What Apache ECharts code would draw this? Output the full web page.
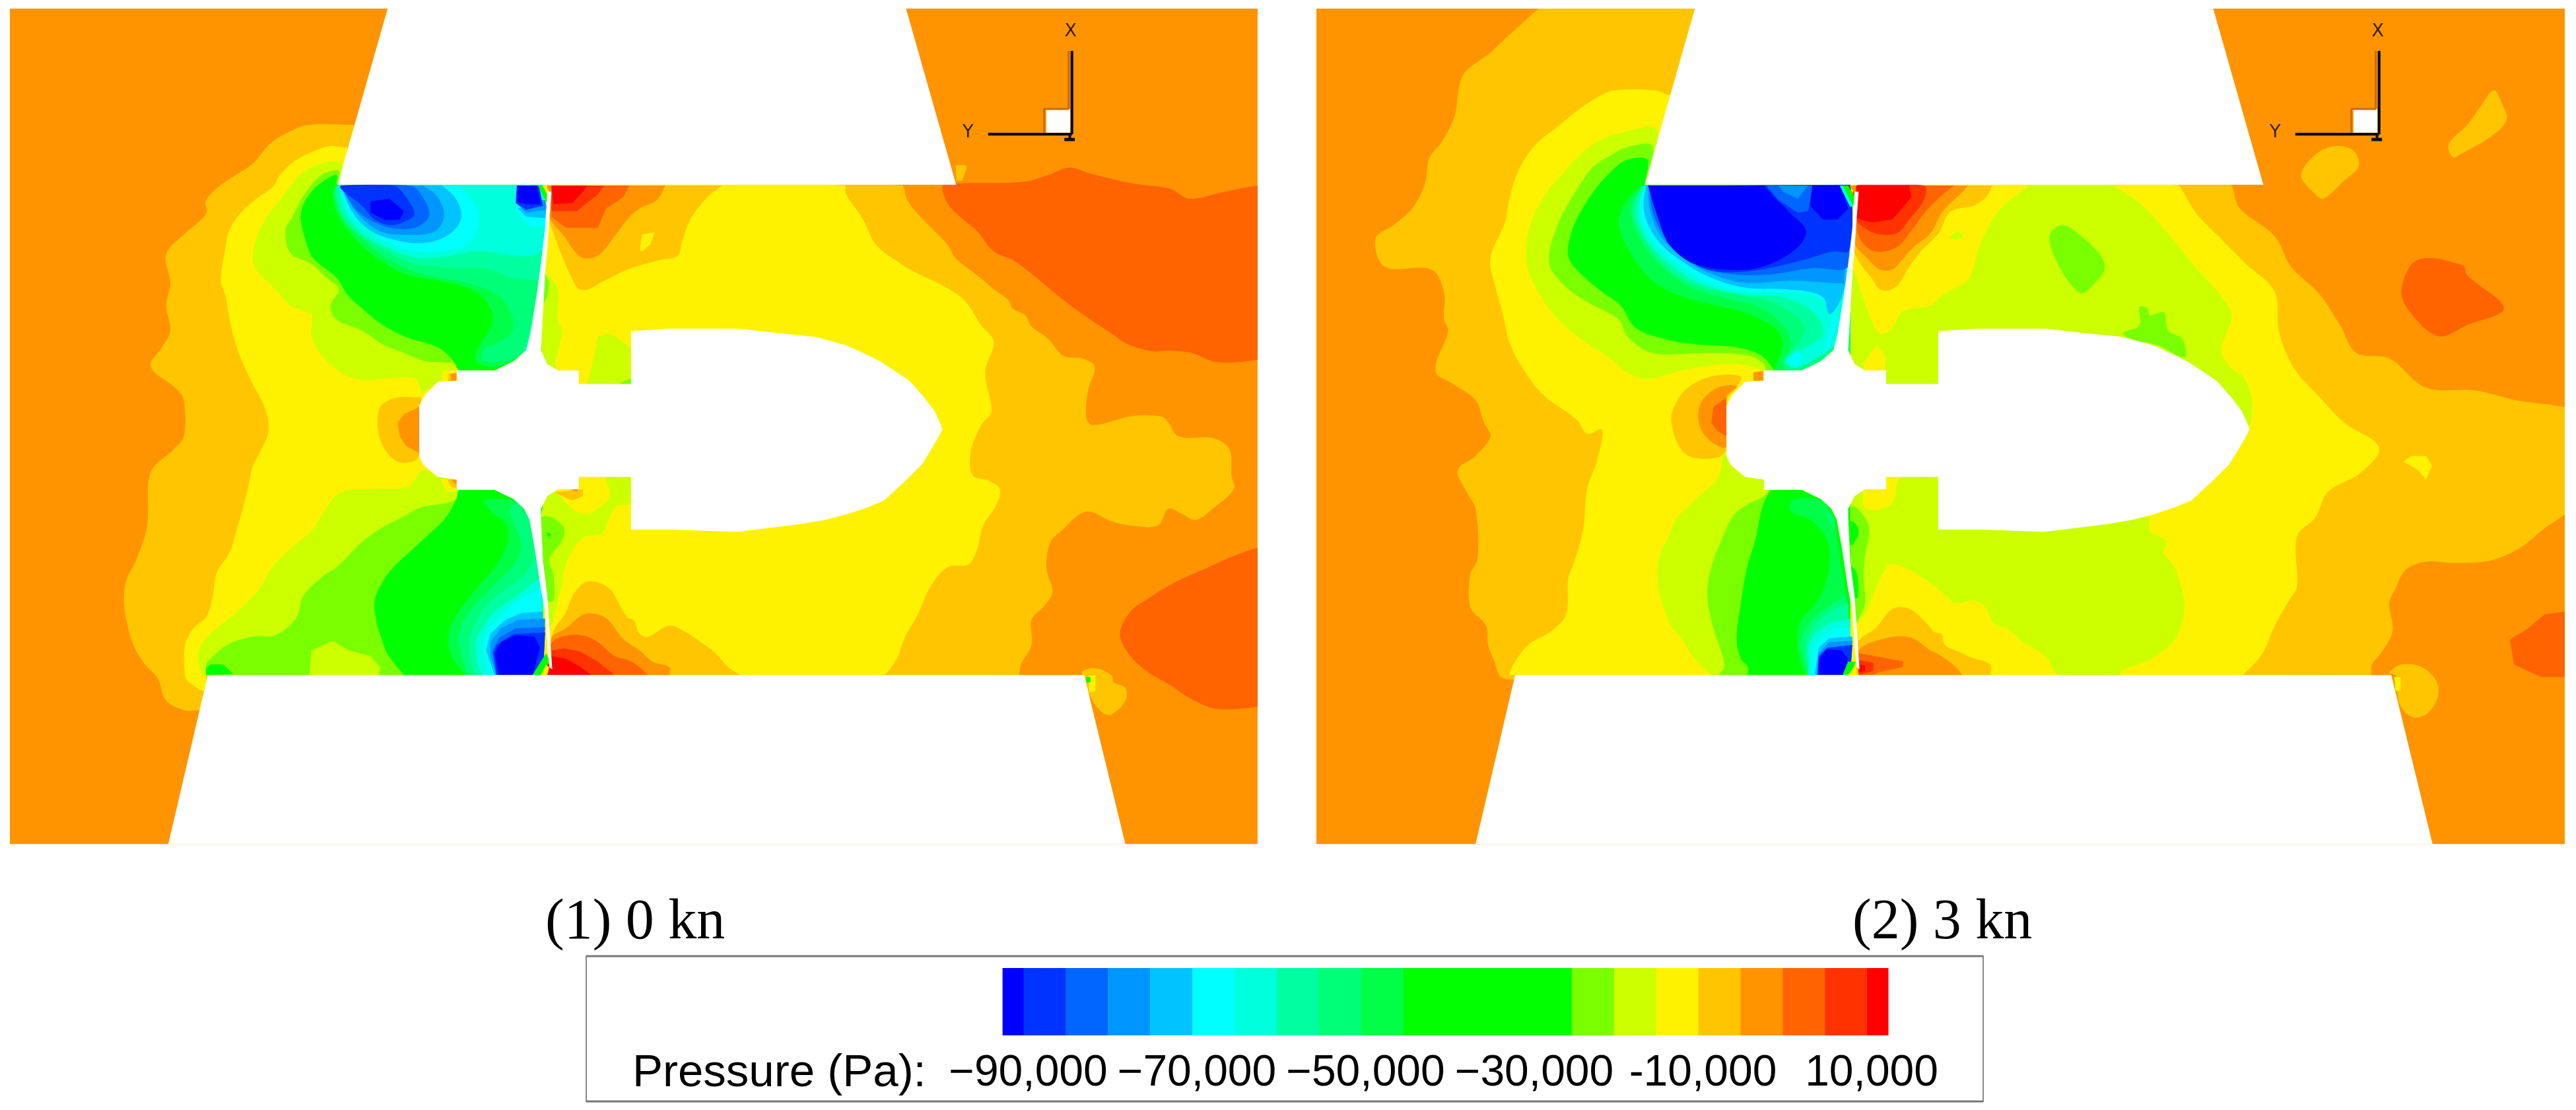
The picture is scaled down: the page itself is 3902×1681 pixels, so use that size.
<!DOCTYPE html>
<html>
<head>
<meta charset="utf-8">
<title>Pressure contours</title>
<script src="https://cdn.jsdelivr.net/npm/echarts@6/dist/echarts.min.js"></script>
<style>
  html,body{margin:0;padding:0;background:#fff;}
  #chart{width:3902px;height:1681px;}
</style>
</head>
<body>
<div id="chart"></div>
<script>
// legend: lower bound of each colour cell (Pa), and its colour
var legendLevels = [-92500,-90000,-85000,-80000,-75000,-70000,-65000,-60000,-55000,-50000,-45000,-25000,-20000,-15000,-10000,-5000,0,5000,10000];
var legendColors = ['#0000ff','#0033ff','#0066ff','#0096ff','#00c3ff','#00ffff','#00ffdc','#00ffa0','#00ff78','#00ff46','#00ff00','#7aff00','#ccff00','#fff200','#ffc600','#ff9400','#ff6400','#ff3200','#ff0000'];
var legendTop = 12500;
var legendTicks = [-90000,-70000,-50000,-30000,-10000,10000];
var legendTickLabels = ['−90,000','−70,000','−50,000','−30,000','-10,000','10,000'];

// contour regions as [pressure level, outline], painted in order, in model coordinates
var contours0kn = [
  [-5000,[[24,31],[2987,31],[2987,3038],[24,3038]]],
  [-10000,[[838,450],[735,450],[680,480],[640,520],[600,590],[530,660],[490,720],[490,770],[440,840],[395,915],[405,1020],[395,1100],[405,1190],[385,1250],[358,1318],[420,1400],[437,1440],[437,1571],[410,1621],[358,1701],[350,1891],[325,2011],[300,2091],[295,2171],[305,2261],[320,2331],[345,2391],[375,2441],[395,2521],[440,2556],[470,2556],[2420,2429],[2425,2391],[2450,2321],[2450,2231],[2480,2181],[2500,2131],[2485,2041],[2495,1951],[2520,1911],[2580,1841],[2640,1876],[2685,1891],[2750,1891],[2775,1831],[2810,1851],[2840,1871],[2880,1831],[2930,1761],[2925,1711],[2920,1616],[2880,1576],[2800,1571],[2775,1521],[2760,1500],[2690,1497],[2595,1530],[2580,1500],[2585,1400],[2600,1320],[2570,1290],[2525,1280],[2490,1220],[2450,1175],[2435,1135],[2405,1110],[2395,1080],[2360,1040],[2320,990],[2270,930],[2250,880],[2180,770],[2155,720],[2145,668]]],
  [-10000,[[2270,595],[2295,595],[2295,610],[2285,650],[2272,650]]],
  [-10000,[[2570,2421],[2605,2406],[2640,2431],[2645,2456],[2673,2476],[2673,2521],[2640,2571],[2620,2566],[2595,2521]]],
  [-15000,[[2585,2431],[2602,2431],[2602,2486],[2587,2491]]],
  [-30000,[[2580,2436],[2590,2436],[2590,2456],[2580,2456]]],
  [0,[[2280,660],[2430,655],[2490,630],[2540,603],[2590,625],[2690,660],[2780,680],[2825,715],[2910,690],[2987,668],[2987,1295],[2890,1303],[2830,1270],[2770,1262],[2740,1265],[2680,1240],[2640,1200],[2590,1150],[2530,1085],[2470,1010],[2410,940],[2360,905],[2320,830],[2280,780],[2250,730],[2240,668]]],
  [0,[[2987,1971],[2930,2001],[2870,2041],[2790,2096],[2730,2151],[2685,2201],[2660,2281],[2680,2351],[2720,2411],[2780,2466],[2830,2516],[2890,2551],[2987,2543]]],
  [-15000,[[810,530],[785,525],[745,545],[700,580],[665,630],[650,670],[610,715],[570,770],[545,830],[535,900],[525,1010],[535,1060],[550,1180],[570,1280],[600,1380],[630,1470],[638,1551],[620,1621],[600,1681],[590,1751],[575,1841],[560,1921],[545,1991],[515,2061],[505,2151],[490,2221],[460,2261],[440,2321],[440,2431],[450,2456],[488,2486],[490,2429],[2102,2429],[2130,2371],[2150,2291],[2180,2211],[2210,2111],[2250,2041],[2300,2031],[2320,1981],[2335,1891],[2365,1821],[2375,1761],[2350,1731],[2310,1711],[2305,1631],[2320,1561],[2335,1521],[2355,1480],[2340,1340],[2360,1230],[2330,1170],[2290,1080],[2230,1020],[2180,985],[2130,940],[2080,880],[2050,790],[2010,700],[2007,668]]],
  // right of the upper blade
  [-10000,[[1300,668],[1715,668],[1680,710],[1640,790],[1620,870],[1610,920],[1570,935],[1520,955],[1490,970],[1430,1015],[1400,1040],[1375,1040],[1355,990],[1335,920],[1315,840],[1305,790]]],
  [-15000,[[1520,900],[1525,845],[1555,835],[1545,880],[1525,905]]],
  [-5000,[[1300,668],[1580,668],[1560,720],[1520,750],[1490,790],[1460,850],[1420,920],[1380,925],[1340,850],[1305,780]]],
  [0,[[1310,668],[1495,668],[1480,710],[1440,750],[1420,820],[1345,820],[1310,780]]],
  [5000,[[1310,668],[1435,668],[1420,700],[1370,760],[1310,760]]],
  [10000,[[1310,668],[1395,668],[1385,690],[1360,730],[1315,735]]],
  // right of the lower blade
  [-10000,[[1310,2290],[1345,2200],[1362,2140],[1390,2096],[1420,2096],[1450,2121],[1470,2171],[1490,2221],[1505,2231],[1520,2281],[1540,2291],[1590,2251],[1625,2271],[1665,2311],[1700,2351],[1730,2401],[1758,2429],[1310,2429]]],
  [-5000,[[1310,2296],[1345,2261],[1385,2211],[1420,2211],[1445,2231],[1475,2291],[1490,2311],[1520,2341],[1550,2381],[1590,2401],[1590,2429],[1310,2429]]],
  [0,[[1310,2316],[1350,2286],[1390,2289],[1420,2311],[1460,2361],[1500,2381],[1540,2429],[1310,2429]]],
  [5000,[[1310,2341],[1340,2333],[1380,2346],[1420,2381],[1460,2429],[1310,2429]]],
  [10000,[[1310,2361],[1345,2371],[1380,2401],[1405,2429],[1290,2429]]],
  // upper suction side
  [-20000,[[810,590],[770,585],[720,620],[690,670],[660,730],[630,790],[605,880],[605,960],[660,1050],[690,1100],[740,1135],[740,1210],[770,1290],[820,1350],[860,1368],[985,1362],[1005,1410],[1040,1375],[1085,1333],[1290,1333],[1290,665],[810,665]]],
  [-25000,[[805,615],[770,625],[740,665],[715,720],[695,780],[678,830],[690,910],[740,950],[775,1000],[805,1040],[785,1100],[800,1150],[860,1190],[910,1240],[960,1270],[1010,1300],[1060,1305],[1085,1310],[1090,1333],[1290,1333],[1290,665],[805,665]]],
  [-30000,[[800,630],[770,650],[735,700],[715,770],[725,860],[745,930],[800,1000],[825,1060],[860,1110],[905,1165],[960,1210],[1040,1250],[1075,1295],[1090,1333],[1290,1333],[1290,665],[800,665]]],
  [-50000,[[800,665],[790,700],[805,780],[850,870],[905,940],[970,990],[1060,1015],[1130,1050],[1165,1110],[1168,1170],[1140,1240],[1130,1300],[1175,1320],[1225,1290],[1290,1200],[1290,665]]],
  [-55000,[[800,665],[795,700],[815,790],[860,860],[920,930],[1000,985],[1100,1015],[1180,1060],[1215,1130],[1218,1190],[1180,1235],[1148,1260],[1150,1300],[1215,1295],[1240,1270],[1290,1200],[1290,665]]],
  [-60000,[[800,665],[800,720],[820,790],[860,850],[920,905],[975,945],[1080,965],[1160,968],[1215,1000],[1285,1020],[1275,1100],[1255,1210],[1240,1270],[1290,1200],[1290,665]]],
  [-65000,[[805,680],[825,780],[870,850],[920,890],[980,925],[1050,925],[1130,905],[1285,905],[1290,665],[805,665]]],
  [-70000,[[810,680],[830,770],[880,830],[930,880],[990,905],[1050,905],[1110,880],[1135,820],[1135,760],[1110,700],[1085,668],[810,668]]],
  [-75000,[[815,690],[840,770],[880,830],[930,860],[1000,875],[1060,850],[1095,790],[1085,720],[1050,668],[815,668]]],
  [-80000,[[815,680],[845,760],[900,830],[960,845],[1030,835],[1055,780],[1040,710],[1005,668],[815,668]]],
  [-85000,[[810,672],[850,760],[905,810],[960,825],[1000,810],[1020,770],[1000,700],[975,668],[810,668]]],
  [-90000,[[810,680],[860,740],[890,790],[930,810],[965,795],[985,770],[960,700],[935,668],[810,668]]],
  [-92500,[[880,725],[925,715],[960,760],[950,790],[915,792],[880,765]]],
  [-70000,[[1225,745],[1235,780],[1260,815],[1295,820],[1300,740]]],
  [-75000,[[1230,750],[1250,780],[1295,785],[1300,740]]],
  [-80000,[[1225,730],[1250,765],[1300,755],[1295,720]]],
  [-90000,[[1228,668],[1225,730],[1250,755],[1290,740],[1280,668]]],
  [-92500,[[1228,668],[1228,725],[1250,735],[1285,735],[1275,668]]],
  [-30000,[[1278,668],[1290,668],[1305,720],[1303,745]]],
  [-15000,[[1288,668],[1297,668],[1305,690],[1303,700]]],
  // front of the hub
  [-10000,[[897,1521],[905,1460],[945,1430],[990,1430],[1000,1430],[996,1641],[960,1666],[930,1646],[905,1591]]],
  [-5000,[[945,1521],[960,1490],[996,1465],[996,1631],[965,1606],[950,1571]]],
  [-15000,[[1050,1333],[1085,1333],[1085,1370],[1052,1370]]],
  [-10000,[[1065,1345],[1085,1340],[1085,1372],[1065,1372]]],
  [-5000,[[1072,1345],[1085,1345],[1085,1370],[1072,1370]]],
  // lobes between blade and hub, upper
  [-20000,[[1297,990],[1325,1040],[1325,1150],[1335,1190],[1320,1300],[1320,1333],[1300,1310],[1285,1250],[1290,1100]]],
  [-25000,[[1293,975],[1305,1020],[1300,1070],[1287,1100],[1290,1030]]],
  [-20000,[[1395,1382],[1410,1290],[1420,1210],[1450,1200],[1499,1250],[1499,1382]]],
  [-25000,[[1468,1382],[1499,1362],[1499,1382]]],
  // lower suction side
  [-20000,[[1005,1691],[1040,1716],[1085,1726],[1085,1763],[1285,1763],[1285,2429],[480,2429],[470,2351],[500,2281],[565,2201],[615,2121],[650,2036],[700,1961],[740,1911],[770,1841],[810,1771],[890,1759],[970,1751]]],
  [-25000,[[1090,1791],[1060,1811],[1000,1826],[950,1866],[905,1901],[860,1951],[800,2041],[765,2076],[720,2146],[705,2221],[655,2286],[600,2291],[540,2321],[500,2371],[490,2391],[490,2429],[1285,2429],[1285,1763],[1090,1763]]],
  [-20000,[[735,2429],[740,2341],[790,2306],[830,2341],[880,2361],[903,2401],[900,2429]]],
  [-30000,[[490,2406],[500,2391],[530,2391],[555,2426],[490,2429]]],
  [-30000,[[1090,1763],[1085,1791],[1060,1861],[1020,1921],[970,1991],[935,2041],[910,2091],[890,2161],[895,2241],[905,2291],[920,2351],[960,2429],[1285,2429],[1285,1763]]],
  [-50000,[[1150,1801],[1170,1846],[1200,1881],[1205,1951],[1180,2031],[1130,2121],[1085,2211],[1065,2281],[1070,2351],[1105,2429],[1290,2429],[1290,1821],[1225,1801]]],
  [-55000,[[1225,1811],[1210,1841],[1235,1941],[1230,2011],[1190,2081],[1150,2141],[1110,2211],[1090,2281],[1095,2351],[1120,2429],[1290,2429],[1290,1921],[1250,1851]]],
  [-60000,[[1230,1831],[1250,1921],[1270,2001],[1250,2061],[1200,2121],[1160,2171],[1130,2241],[1115,2311],[1135,2429],[1290,2429],[1275,2021]]],
  [-65000,[[1280,2081],[1230,2141],[1175,2201],[1145,2261],[1130,2321],[1150,2429],[1290,2429],[1290,2081]]],
  [-70000,[[1285,2121],[1250,2141],[1200,2201],[1160,2261],[1145,2321],[1160,2429],[1290,2429]]],
  [-75000,[[1290,2201],[1240,2206],[1200,2231],[1165,2281],[1155,2341],[1175,2429],[1290,2429]]],
  [-80000,[[1295,2226],[1230,2231],[1190,2261],[1165,2311],[1165,2361],[1180,2429],[1290,2429]]],
  [-85000,[[1295,2256],[1225,2261],[1185,2296],[1170,2341],[1178,2429],[1290,2429]]],
  [-90000,[[1295,2276],[1220,2281],[1180,2321],[1172,2351],[1180,2429],[1290,2429]]],
  [-92500,[[1225,2286],[1270,2291],[1283,2331],[1265,2429],[1185,2429],[1175,2351],[1190,2311]]],
  [-30000,[[1265,2429],[1297,2351],[1305,2371],[1300,2396],[1285,2429]]],
  [-15000,[[1285,2429],[1297,2393],[1305,2401],[1300,2429]]],
  // lobes between blade and hub, lower
  [-20000,[[1440,1716],[1499,1716],[1499,1811],[1465,1821],[1445,1871],[1430,1921],[1390,1931],[1360,1981],[1340,2051],[1335,2101],[1320,2201],[1305,2261],[1295,2121],[1285,2021],[1285,1861],[1300,1786],[1325,1766],[1345,1811],[1385,1851],[1420,1831],[1450,1781]]],
  [-25000,[[1285,1866],[1310,1861],[1340,1901],[1335,1946],[1305,2011],[1315,2071],[1315,2161],[1300,2161],[1295,2121],[1285,2001]]],
  [-30000,[[1298,1916],[1310,1921],[1305,1936]]],
  [-10000,[[1320,1771],[1385,1761],[1385,1786],[1360,1801],[1335,1786]]],
  [-5000,[[1355,1761],[1375,1761],[1370,1771]]],
  [-15000,[[1048,1726],[1085,1726],[1085,1771],[1060,1771]]],
  [-10000,[[1062,1726],[1085,1726],[1085,1757],[1072,1750]]],
  [-5000,[[1072,1726],[1085,1726],[1085,1748]]]
];

var contours3kn = [
  [-5000,[[22,31],[2987,31],[2987,3038],[22,3038]]],
  [-10000,[[550,31],[510,85],[470,140],[435,190],[375,260],[360,320],[350,420],[320,510],[290,570],[280,660],[250,750],[205,810],[162,860],[185,960],[295,970],[325,1050],[325,1150],[335,1190],[305,1335],[350,1385],[400,1440],[420,1520],[435,1571],[400,1641],[358,1691],[375,1761],[400,1831],[405,2011],[388,2066],[388,2186],[425,2251],[430,2321],[445,2381],[460,2436],[488,2446],[2526,2429],[2529,2391],[2550,2351],[2578,2271],[2570,2171],[2584,2121],[2609,2051],[2657,2021],[2725,2026],[2813,2016],[2881,1971],[2939,1901],[2987,1851],[2987,1465],[2871,1440],[2774,1405],[2657,1395],[2570,1290],[2492,1270],[2453,1170],[2405,1060],[2337,960],[2298,850],[2215,750],[2196,668],[921,31]]],
  [-10000,[[2361,630],[2400,550],[2448,525],[2487,545],[2497,600],[2463,650],[2414,715],[2395,700]]],
  [-10000,[[2711,520],[2755,450],[2784,390],[2818,325],[2837,370],[2849,430],[2813,490],[2745,550],[2721,565]]],
  [-10000,[[2570,2421],[2599,2391],[2648,2401],[2682,2451],[2685,2511],[2657,2571],[2623,2579],[2594,2531],[2585,2431]]],
  [-15000,[[2582,2436],[2597,2436],[2597,2486],[2585,2486]]],
  [-15000,[[2604,1661],[2623,1641],[2657,1641],[2672,1676],[2657,1726],[2638,1691]]],
  [0,[[2599,1040],[2638,935],[2745,955],[2755,990],[2842,1110],[2755,1170],[2687,1210],[2618,1120]]],
  [0,[[2987,2201],[2939,2211],[2900,2261],[2857,2301],[2866,2391],[2930,2436],[2987,2436]]],
  [-15000,[[855,340],[825,325],[730,325],[690,350],[640,400],[600,450],[540,525],[500,620],[480,720],[470,800],[435,930],[445,1020],[465,1130],[480,1230],[510,1320],[560,1420],[640,1510],[665,1561],[700,1546],[690,1651],[665,1761],[655,1911],[630,2041],[620,2081],[615,2211],[580,2271],[525,2321],[490,2391],[480,2429],[2222,2429],[2269,2351],[2298,2251],[2332,2161],[2351,2111],[2351,1931],[2395,1861],[2424,1771],[2502,1701],[2546,1611],[2463,1521],[2405,1430],[2346,1330],[2309,1200],[2298,1050],[2230,950],[2171,860],[2113,770],[2071,668]]],
  // wake above and below the hub
  [-20000,[[1713,668],[1914,668],[1977,730],[2045,840],[2103,950],[2162,1050],[2196,1130],[2186,1190],[2171,1260],[2191,1320],[2225,1360],[2244,1440],[2240,1530],[1499,1382],[1375,1382],[1375,1333],[1320,1333],[1295,1310],[1285,1250],[1285,1060],[1297,975],[1320,1070],[1345,1170],[1360,1200],[1385,1190],[1415,1120],[1480,1100],[1510,1060],[1568,1010],[1583,960],[1593,900],[1637,770]]],
  [-15000,[[1320,1310],[1355,1240],[1375,1290],[1370,1333],[1325,1333]]],
  [-25000,[[1763,850],[1792,810],[1831,840],[1885,920],[1894,970],[1870,1020],[1841,1055],[1817,1030],[1783,950]]],
  [-25000,[[1938,1200],[1977,1170],[1977,1105],[1996,1110],[2001,1135],[2035,1125],[2045,1190],[2079,1220],[2084,1285],[2016,1240],[1967,1225]]],
  [-20000,[[1299,1786],[1320,1766],[1322,1821],[1350,1836],[1390,1811],[1410,1716],[1499,1716],[1499,1906],[2001,1861],[2001,1911],[2040,1946],[2035,1991],[2060,2041],[2074,2101],[2084,2171],[2074,2261],[2055,2311],[2006,2371],[1938,2411],[1928,2429],[1787,2429],[1753,2361],[1700,2311],[1661,2261],[1632,2246],[1608,2181],[1583,2161],[1540,2171],[1515,2141],[1491,2111],[1430,2051],[1385,2031],[1365,2071],[1345,2141],[1320,2221],[1300,2246],[1290,2100],[1285,1861]]],
  [-25000,[[1290,1831],[1300,1821],[1330,1876],[1335,1921],[1325,2001],[1322,2091],[1325,2171],[1300,2246],[1295,2161],[1285,2001],[1280,1891]]],
  [-30000,[[1283,1876],[1300,1881],[1310,1916],[1295,1961],[1285,1961],[1285,2021],[1305,2061],[1308,2151],[1295,2146]]],
  // right of the blades
  [-10000,[[1305,668],[1627,668],[1612,710],[1583,740],[1535,755],[1520,775],[1500,840],[1460,900],[1430,960],[1400,1030],[1365,1045],[1340,1000],[1310,940],[1298,890]]],
  [-5000,[[1305,668],[1569,668],[1550,700],[1510,760],[1480,840],[1440,890],[1410,940],[1390,970],[1360,970],[1330,930],[1300,870]]],
  [0,[[1305,668],[1535,668],[1510,700],[1470,760],[1435,830],[1400,890],[1350,905],[1320,875],[1305,820]]],
  [5000,[[1305,668],[1465,668],[1465,720],[1430,790],[1400,840],[1350,840],[1315,810],[1305,790]]],
  [10000,[[1305,668],[1430,668],[1435,710],[1390,790],[1340,800],[1305,785]]],
  [-20000,[[1525,855],[1545,830],[1560,850],[1540,865]]],
  [-10000,[[1305,2321],[1320,2291],[1350,2261],[1390,2191],[1430,2191],[1470,2241],[1491,2276],[1506,2281],[1515,2321],[1549,2346],[1578,2366],[1622,2391],[1622,2429],[1305,2429]]],
  [-5000,[[1310,2340],[1380,2295],[1435,2295],[1480,2340],[1500,2355],[1515,2370],[1540,2400],[1555,2429],[1310,2429]]],
  [0,[[1310,2350],[1345,2360],[1415,2380],[1415,2400],[1370,2415],[1340,2429],[1310,2429]]],
  [5000,[[1310,2375],[1345,2385],[1345,2415],[1310,2429]]],
  [10000,[[1310,2391],[1325,2395],[1325,2415],[1310,2420]]],
  // upper suction side
  [-20000,[[830,465],[740,480],[690,510],[650,555],[610,620],[570,690],[530,810],[520,940],[545,1040],[590,1140],[650,1220],[720,1290],[760,1340],[810,1362],[900,1330],[1020,1310],[1085,1333],[1290,1333],[1290,665],[802,665]]],
  [-25000,[[820,525],[760,530],[720,560],[680,600],[650,660],[610,760],[590,830],[575,910],[580,970],[620,1040],[670,1090],[740,1150],[760,1210],[820,1270],[960,1270],[1050,1280],[1085,1310],[1090,1333],[1290,1333],[1290,665],[805,665]]],
  [-30000,[[808,575],[760,575],[720,620],[680,690],[640,790],[625,850],[620,920],[640,970],[700,1050],[745,1100],[780,1180],[850,1220],[930,1240],[1020,1250],[1080,1280],[1110,1333],[1290,1333],[1290,665],[802,665]]],
  [-50000,[[790,670],[760,720],[740,790],[750,860],[800,980],[850,1040],[930,1085],[1040,1125],[1110,1180],[1130,1240],[1110,1333],[1290,1333],[1290,665]]],
  [-55000,[[795,670],[770,750],[790,860],[850,970],[920,1040],[1000,1075],[1080,1110],[1130,1170],[1150,1240],[1130,1300],[1140,1333],[1290,1333],[1290,665]]],
  [-60000,[[795,670],[775,760],[800,860],[860,970],[930,1030],[1020,1060],[1110,1090],[1180,1170],[1170,1230],[1140,1290],[1200,1290],[1290,1200],[1290,665]]],
  [-65000,[[800,670],[785,770],[810,870],[870,960],[940,1025],[1040,1060],[1130,1070],[1200,1120],[1225,1200],[1185,1250],[1135,1300],[1160,1325],[1230,1270],[1290,1200],[1290,665]]],
  [-70000,[[800,670],[790,770],[820,860],[880,950],[950,1015],[1040,1050],[1170,1055],[1220,1075],[1255,1130],[1260,1100],[1290,665]]],
  [-70000,[[1250,1120],[1262,1150],[1240,1250],[1225,1285],[1235,1230]]],
  [-70000,[[1140,1290],[1165,1260],[1178,1290],[1160,1320]]],
  [-75000,[[805,670],[800,760],[830,860],[890,940],[960,1000],[1040,1035],[1170,1045],[1225,1070],[1240,1130],[1260,1100],[1280,1020],[1290,665]]],
  [-80000,[[810,670],[815,760],[840,850],[900,935],[960,985],[1040,1018],[1150,1010],[1275,1020],[1290,665]]],
  [-85000,[[815,670],[820,760],[850,850],[910,925],[965,975],[1080,990],[1200,965],[1285,960],[1295,800],[1290,665]]],
  [-90000,[[815,670],[830,770],[860,870],[920,950],[975,978],[1070,972],[1180,935],[1250,905],[1285,905],[1295,800],[1290,665]]],
  [-92500,[[810,668],[835,790],[860,880],[920,950],[1030,972],[1100,950],[1165,890],[1185,830],[1150,770],[1110,710],[1085,668]]],
  [-85000,[[1090,668],[1200,668],[1190,760],[1165,765],[1120,720]]],
  [-80000,[[1120,668],[1190,668],[1165,715],[1130,690]]],
  [-92500,[[1200,668],[1265,668],[1285,750],[1260,790],[1225,790],[1195,740]]],
  [-70000,[[1265,668],[1275,668],[1298,740],[1290,745]]],
  [-30000,[[1272,668],[1285,668],[1303,715],[1296,740]]],
  [-5000,[[1288,668],[1303,668],[1303,700],[1298,690]]],
  // front of the hub
  [-10000,[[865,1521],[870,1470],[900,1400],[960,1355],[1030,1355],[1020,1395],[996,1440],[996,1616],[975,1646],[915,1646],[885,1611]]],
  [-5000,[[930,1521],[935,1450],[975,1395],[1020,1390],[996,1430],[996,1606],[985,1611],[950,1576]]],
  [0,[[960,1521],[965,1465],[996,1430],[996,1571],[975,1551]]],
  [-15000,[[1045,1333],[1085,1333],[1085,1370],[1050,1370]]],
  [-5000,[[1060,1340],[1083,1335],[1083,1370],[1060,1370]]],
  // lower suction side
  [-20000,[[990,1631],[1005,1671],[1040,1716],[1085,1726],[1085,1763],[1290,1763],[1290,2429],[960,2429],[920,2371],[890,2301],[860,2241],[835,2121],[835,2011],[855,1941],[880,1861],[920,1801],[975,1721]]],
  [-25000,[[1085,1786],[1040,1821],[1010,1861],[985,1941],[960,2041],[950,2141],[965,2261],[985,2351],[990,2401],[978,2429],[1285,2429],[1285,1763],[1100,1763]]],
  [-30000,[[1100,1763],[1080,1831],[1065,1941],[1045,2041],[1030,2171],[1020,2301],[1030,2371],[1047,2401],[1047,2429],[1290,2429],[1290,1763]]],
  [-50000,[[1150,1801],[1150,1841],[1195,1871],[1235,1941],[1240,2041],[1220,2141],[1190,2201],[1170,2241],[1165,2321],[1190,2429],[1290,2429],[1280,2141],[1250,1861],[1220,1801]]],
  [-55000,[[1225,1821],[1250,1861],[1255,1921]]],
  [-55000,[[1280,2141],[1240,2181],[1205,2221],[1180,2271],[1170,2321],[1190,2429],[1290,2429]]],
  [-60000,[[1285,2171],[1240,2201],[1210,2241],[1190,2291],[1185,2351],[1195,2429],[1290,2429]]],
  [-65000,[[1290,2226],[1240,2241],[1205,2281],[1190,2321],[1190,2429],[1290,2429]]],
  [-70000,[[1290,2256],[1250,2261],[1215,2301],[1200,2351],[1198,2429],[1290,2429]]],
  [-75000,[[1295,2291],[1240,2296],[1215,2331],[1205,2429],[1290,2429]]],
  [-80000,[[1295,2306],[1240,2311],[1215,2351],[1210,2429],[1290,2429]]],
  [-90000,[[1295,2321],[1235,2331],[1215,2361],[1212,2429],[1290,2429]]],
  [-92500,[[1235,2336],[1270,2341],[1285,2371],[1272,2429],[1215,2429],[1215,2371]]],
  [-30000,[[1272,2429],[1285,2381],[1303,2381],[1295,2411],[1285,2429]]],
  [-15000,[[1285,2429],[1295,2409],[1310,2429]]]
];

// blades, hub and walls are holes in the flow field
var wallTop = [[921,31],[2152,31],[2271,665],[802,665]];
var wallBottom = [[494,2429],[2575,2429],[2673,3038],[400,3038]];
var hubBlade = [[996,1460],[996,1641],[1005,1671],[1040,1716],[1085,1726],[1085,1763],[1175,1763],[1220,1796],[1245,1831],[1258,1871],[1270,1971],[1278,2051],[1285,2121],[1295,2201],[1300,2321],[1305,2401],[1312,2409],[1308,2321],[1300,2141],[1290,2021],[1285,1861],[1285,1831],[1300,1786],[1325,1761],[1375,1761],[1375,1716],[1499,1716],[1499,1906],[1600,1906],[1750,1914],[1900,1886],[1960,1871],[2010,1851],[2060,1826],[2100,1801],[2150,1731],[2190,1671],[2210,1621],[2230,1571],[2238,1545],[2235,1530],[2220,1480],[2195,1430],[2160,1370],[2125,1335],[2090,1300],[2050,1270],[2010,1243],[1935,1212],[1855,1200],[1755,1183],[1590,1183],[1499,1192],[1499,1382],[1375,1382],[1375,1333],[1325,1333],[1300,1310],[1285,1260],[1296,960],[1300,900],[1305,790],[1310,690],[1300,690],[1295,820],[1285,950],[1275,1060],[1260,1200],[1250,1260],[1220,1300],[1175,1333],[1085,1333],[1085,1370],[1040,1375],[1010,1420]];
var triadBox = [[2485,392],[2542,392],[2542,478],[2485,478]];

// coordinate triad
var triadAxisX = [[2546,183],[2546,483]];
var triadAxisY = [[2347,483],[2546,483]];
var triadShade = [[2538,183],[2538,392],[2480,392],[2480,478]];
var triadZ = [[2528,502],[2553,502]];
var triadZStem = [[2541,483],[2541,502]];
var triadLabels = [[2543,115,'X'],[2299,478,'Y']];

function colorOf(p){
  var c = legendColors[0];
  legendLevels.forEach(function(l,i){ if(p>=l) c = legendColors[i]; });
  return c;
}

// long edges run along walls or under the holes: pin their ends so smoothing does not bulge them
function pinLongEdges(pts){
  var out = [];
  pts.forEach(function(p,i){
    var q = pts[(i+1)%pts.length];
    var dx = q[0]-p[0], dy = q[1]-p[1], len = Math.sqrt(dx*dx+dy*dy);
    out.push(p);
    if(len>110){
      out.push([p[0]+dx*4/len,p[1]+dy*4/len]);
      out.push([q[0]-dx*4/len,q[1]-dy*4/len]);
    }
  });
  return out;
}

function polygonSeries(list,idx,z){
  return {
    type:'custom', xAxisIndex:idx, yAxisIndex:idx, z:z, silent:true, animation:false, clip:true,
    data:list.map(function(c,i){ return [i]; }),
    renderItem:function(params,api){
      var item = list[params.dataIndex];
      var pts = item[1].map(function(p){ return api.coord(p); });
      var curved = item[0]!==null && item[1].length>=8;
      return {
        type:'polygon',
        shape:{points:curved ? pinLongEdges(pts) : pts, smooth:curved ? 0.35 : 0},
        style:{fill:item[0]===null ? '#fff' : colorOf(item[0])}
      };
    }
  };
}

function lineSeries(pts,idx,color,width){
  return {
    type:'line', xAxisIndex:idx, yAxisIndex:idx, z:6, silent:true, animation:false,
    data:pts, symbol:'none', lineStyle:{color:color,width:width}
  };
}

function panelSeries(list,idx){
  var holes = [[null,wallTop],[null,wallBottom],[null,hubBlade],[null,triadBox]];
  return [
    polygonSeries(list,idx,2),
    polygonSeries(holes,idx,3),
    lineSeries(triadShade,idx,'#c96c00',3),
    lineSeries(triadAxisX,idx,'#000',4),
    lineSeries(triadAxisY,idx,'#000',4),
    lineSeries(triadZ,idx,'#111',5),
    lineSeries(triadZStem,idx,'#111',4),
    {
      type:'scatter', xAxisIndex:idx, yAxisIndex:idx, z:7, silent:true, animation:false,
      data:triadLabels, symbolSize:0,
      label:{show:true,position:'inside',color:'#000',fontFamily:'DejaVu Sans',fontSize:27,
        formatter:function(p){ return p.value[2]; }}
    }
  ];
}

var legendSeries = {
  type:'custom', xAxisIndex:2, yAxisIndex:2, z:2, silent:true, animation:false,
  data:legendLevels.map(function(l,i){ return [i]; }),
  renderItem:function(params,api){
    var i = params.dataIndex;
    var next = i+1<legendLevels.length ? legendLevels[i+1] : legendTop;
    var a = api.coord([legendLevels[i],1]);
    var b = api.coord([next,0]);
    return {type:'rect',shape:{x:a[0],y:a[1],width:b[0]-a[0]+0.5,height:b[1]-a[1]},style:{fill:legendColors[i]}};
  }
};

function hiddenX(min,max,idx){ return {type:'value',gridIndex:idx,min:min,max:max,show:false}; }
function hiddenY(min,max,idx){ return {type:'value',gridIndex:idx,min:min,max:max,inverse:true,show:false}; }

var option = {
  backgroundColor:'#fff',
  animation:false,
  grid:[
    {left:15,top:13,width:1890,height:1265.5},
    {left:1994,top:13,width:1891,height:1265.5},
    {left:1518.6,top:1466,width:1341.4,height:102}
  ],
  xAxis:[
    hiddenX(24,2987,0),
    hiddenX(22,2987,1),
    {
      type:'value',gridIndex:2,min:-92500,max:legendTop,
      axisLine:{show:false},axisTick:{show:false},splitLine:{show:false},
      axisLabel:{
        customValues:legendTicks,margin:25,color:'#000',hideOverlap:false,padding:[0,0,0,14],
        fontFamily:'Liberation Sans',fontSize:66,
        formatter:function(v){ return legendTickLabels[legendTicks.indexOf(v)]; }
      }
    }
  ],
  yAxis:[
    hiddenY(31,3038,0),
    hiddenY(31,3038,1),
    {type:'value',gridIndex:2,min:0,max:1,show:false}
  ],
  series:panelSeries(contours0kn,0).concat(panelSeries(contours3kn,1)).concat([legendSeries]),
  graphic:[
    {type:'rect',z:0,shape:{x:888,y:1448,width:2116,height:220},style:{fill:'#fff',stroke:'#888',lineWidth:2}},
    {type:'line',z:1,shape:{x1:888,y1:1448,x2:3004,y2:1448},style:{stroke:'#777',lineWidth:3}},
    {type:'line',z:1,shape:{x1:888,y1:1668,x2:3004,y2:1668},style:{stroke:'#777',lineWidth:3}},
    {type:'text',z:5,left:826,top:1355,style:{text:'(1) 0 kn',fill:'#000',fontFamily:'Liberation Serif',fontSize:86}},
    {type:'text',z:5,left:2806,top:1355,style:{text:'(2) 3 kn',fill:'#000',fontFamily:'Liberation Serif',fontSize:86}},
    {type:'text',z:5,left:958,top:1591,style:{text:'Pressure (Pa):',fill:'#000',fontFamily:'Liberation Sans',fontSize:69}}
  ]
};

var myChart = echarts.init(document.getElementById('chart'));
myChart.setOption(option);
</script>
</body>
</html>
